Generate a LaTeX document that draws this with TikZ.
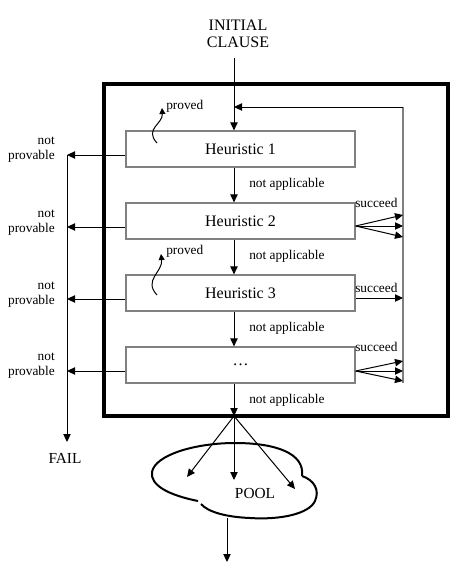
\documentclass[tikz,border=0pt]{standalone}
\usepackage{fontspec}
\setmainfont{Liberation Serif}
\usetikzlibrary{arrows.meta}
\begin{document}
\begin{tikzpicture}[x=0.75pt,y=-0.75pt,
  arr/.style={-{Triangle[length=6pt,width=5.5pt]}, line width=0.75pt},
  sarr/.style={-{Triangle[length=4.5pt,width=4.5pt]}, line width=0.75pt},
  hbox/.style={draw=black!50, line width=0.9pt, minimum width=171.75pt, minimum height=27pt, inner sep=0pt, font=\fontsize{12}{14}\selectfont},
  lbl/.style={font=\fontsize{10}{11.25}\selectfont, inner sep=0pt},
  big/.style={font=\fontsize{12}{12.75}\selectfont, inner sep=0pt, align=center},
  grayline/.style={draw=black!50, line width=0.9pt}
]
\useasboundingbox (0,0) rectangle (466,571);

% title and frame
\node[big] (init) at (238,33.5) {INITIAL\\CLAUSE};
\coordinate (top) at (234,58);
\draw[line width=3pt] (104,84) rectangle (448,416);
\coordinate (fb) at (234,416);

% heuristic boxes
\node[hbox] (h1) at (240.5,149) {Heuristic 1};
\node[hbox] (h2) at (240.5,221) {Heuristic 2};
\node[hbox] (h3) at (240.5,293) {Heuristic 3};
\node[hbox] (h4) at (240.5,365) {…};

% central flow
\draw[arr] (top) -- (h1.north -| top);
\draw[arr] (h1.south -| top) -- (h2.north -| top);
\draw[arr] (h2.south -| top) -- (h3.north -| top);
\draw[arr] (h3.south -| top) -- (h4.north -| top);
\draw[arr] (h4.south -| top) -- (fb);

\node[lbl, anchor=west] (na1) at (249,184) {not applicable};
\node[lbl, anchor=west] (na2) at (249,256) {not applicable};
\node[lbl, anchor=west] (na3) at (249,328) {not applicable};
\node[lbl, anchor=west] (na4) at (249,400) {not applicable};

% feedback loop
\coordinate (rt) at (403,107);
\coordinate (rb) at (403,383);
\draw[grayline] (rb) -- (rt);
\draw[arr] (rt) -- (rt -| top);

% succeed arrows
\coordinate (q2) at (403,226);
\coordinate (q2a) at (403,215);
\coordinate (q2b) at (403,237);
\draw[arr] (h2.east |- q2) -- (q2);
\draw[arr] (h2.east |- q2) -- (q2a);
\draw[arr] (h2.east |- q2) -- (q2b);
\coordinate (q3) at (403,298);
\draw[arr] (h3.east |- q3) -- (q3);
\coordinate (q4) at (403,371);
\coordinate (q4a) at (403,361);
\coordinate (q4b) at (403,381);
\draw[arr] (h4.east |- q4) -- (q4);
\draw[arr] (h4.east |- q4) -- (q4a);
\draw[arr] (h4.east |- q4) -- (q4b);
\node[lbl, anchor=west] (s2) at (355,203) {succeed};
\node[lbl, anchor=west] (s3) at (355,288) {succeed};
\node[lbl, anchor=west] (s4) at (355,347) {succeed};

% proved
\draw[sarr] (157,143) .. controls (144,129) and (163,124) .. (162,108);
\node[lbl, anchor=west] (pr1) at (166,106) {proved};
\draw[sarr] (157,295) .. controls (143,280) and (163,272) .. (161,254);
\node[lbl, anchor=west] (pr3) at (166,251) {proved};

% not provable
\coordinate (p1) at (67,155);
\coordinate (p2) at (67,227);
\coordinate (p3) at (67,299);
\coordinate (p4) at (67,371);
\coordinate (failtip) at (67,442);
\draw[arr] (h1.west |- p1) -- (p1);
\draw[arr] (h2.west |- p2) -- (p2);
\draw[arr] (h3.west |- p3) -- (p3);
\draw[arr] (h4.west |- p4) -- (p4);
\draw[arr] (p1) -- (failtip);
\node[lbl, anchor=east, align=right] (np1) at (55,150) {not\\provable};
\node[lbl, anchor=east, align=right] (np2) at (55,223) {not\\provable};
\node[lbl, anchor=east, align=right] (np3) at (55,295) {not\\provable};
\node[lbl, anchor=east, align=right] (np4) at (55,366) {not\\provable};
\node[inner sep=0pt, font=\fontsize{11.5}{13}\selectfont] (fail) at (65,458) {FAIL};

% pool cloud
\draw[line width=1.5pt]
  (198,501) .. controls (168,495) and (150,485) .. (152,472)
  .. controls (155,455) and (195,443) .. (235,443)
  .. controls (275,443) and (305,453) .. (302,476);
\draw[line width=1.5pt]
  (302,476) .. controls (314,480) and (320,490) .. (315,501)
  .. controls (309,514) and (280,520) .. (250,518)
  .. controls (226,517) and (208,512) .. (201,504);
\node[inner sep=0pt, font=\fontsize{11.5}{13}\selectfont] (pool) at (255,493) {POOL};
\coordinate (c1) at (187,477);
\coordinate (c2) at (234,480);
\coordinate (c3) at (295,489);
\draw[arr] (fb) -- (c1);
\draw[arr] (fb) -- (c2);
\draw[arr] (fb) -- (c3);
\coordinate (cb) at (227,518);
\coordinate (out) at (227,562);
\draw[arr] (cb) -- (out);
\end{tikzpicture}
\end{document}
